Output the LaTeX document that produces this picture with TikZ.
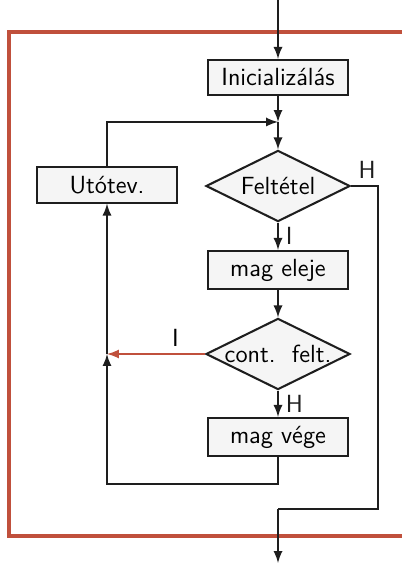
\documentclass[tikz,border=0pt]{standalone}
\usepackage{tikz}
\usetikzlibrary{positioning}
\usetikzlibrary{shapes.geometric}
\definecolor{frameColor}{RGB}{192,80,60}
\definecolor{lineColor}{RGB}{30,30,30}
\begin{document}
\begin{tikzpicture}[font=\sffamily\large]

            \tikzstyle{block} = [draw=lineColor, line width=1pt, fill=gray!8, minimum width=2.38cm, minimum height=0.6cm, inner sep=2pt];
            \tikzstyle{decision} = [draw=lineColor, line width=1pt, fill=gray!8, diamond, minimum width=2.45cm, minimum height=1.21cm, inner sep=0pt];
            \tikzstyle{normalEdge} = [line width=1pt, lineColor, -latex];
            \tikzstyle{plainEdge} = [line width=1pt, lineColor];
            \tikzstyle{focusedEdge} = [line width=1pt, frameColor, -latex];

            \useasboundingbox (-4.726,0) rectangle (2.108,-9.571);

            % outer frame
            \draw[frameColor, line width=1.8pt] (2.108,-0.544) -| (-4.573,-9.112) -- (2.108,-9.112);

            \coordinate (start) at (0,0);
            \node[block] (init) at (0,-1.3175) {Inicializálás};
            \coordinate (join) at (0,-2.074);
            \node[decision, label=center:{Feltétel}] (cond) at (0,-3.162) {};
            \node[block] (step) at (-2.907,-3.145) {Utótev.};
            \node[block, minimum height=0.65cm] (bodyA) at (0,-4.59) {mag eleje};
            \node[decision, label=center:{cont.~~felt.}] (cont) at (0,-6.018) {};
            \node[block, minimum height=0.65cm] (bodyB) at (0,-7.429) {mag vége};
            \coordinate (back) at (-2.907,-6.018);
            \coordinate (loopEnd) at (0,-8.22);
            \coordinate (exitBend) at (1.7,-8.66);
            \coordinate (finish) at (0,-9.571);

            \draw[normalEdge] (start) -- (init);
            \draw[normalEdge] (init) -- (join);
            \draw[normalEdge] (join) -- (cond);
            \draw[normalEdge] (step.north) |- (join);
            \draw[normalEdge] (cond) -- node[right] {I} (bodyA);
            \draw[normalEdge] (bodyA) -- (cont);
            \draw[normalEdge] (cont) -- node[right] {H} (bodyB);
            \draw[focusedEdge] (cont.west) -- node[above, pos=0.3, text=black] {I} (back);
            \draw[normalEdge] (bodyB.south) -- (loopEnd) -| (back);
            \draw[normalEdge] (back) -- (step.south);
            \draw[plainEdge] (cond.east) -- node[above, pos=0.6] {H} (cond.east -| exitBend) -- (exitBend) -- (exitBend -| finish);
            \draw[normalEdge] (exitBend -| finish) -- (finish);
          \end{tikzpicture}
\end{document}
